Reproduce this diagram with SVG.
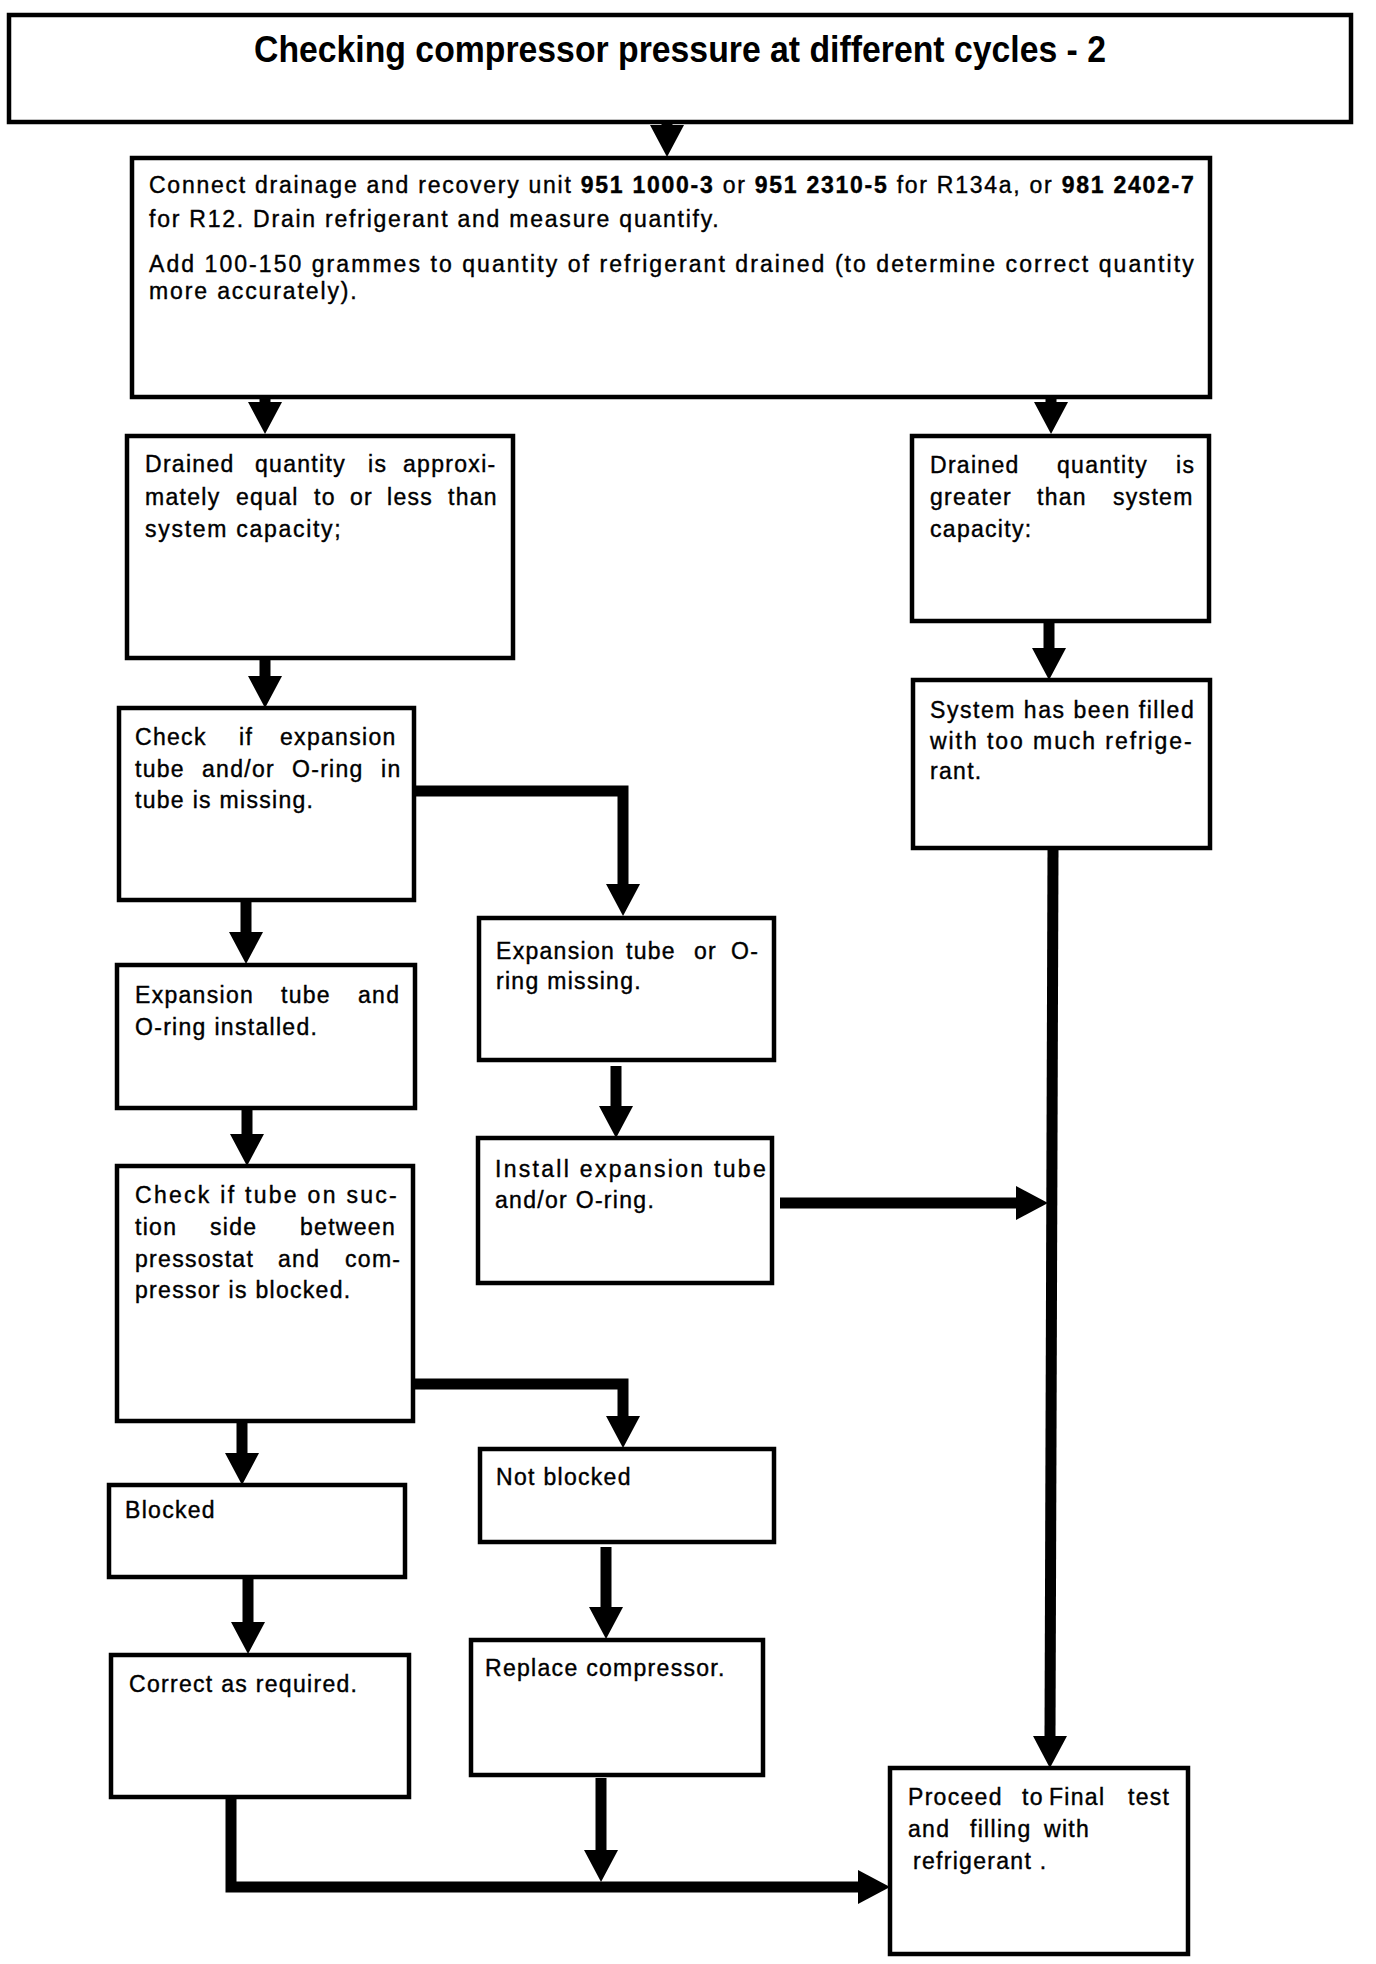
<svg xmlns="http://www.w3.org/2000/svg" width="1376" height="1964" viewBox="0 0 1376 1964">
<defs>
<style>
.box{fill:#fff;stroke:#000;stroke-width:4.5}
.t{font-family:"Liberation Sans",Arial,Helvetica,sans-serif;font-size:23px;letter-spacing:1.3px;fill:#000;stroke:#000;stroke-width:0.4}
.title{font-family:"Liberation Sans",Arial,Helvetica,sans-serif;font-size:36px;font-weight:bold;fill:#000}
.b{font-weight:bold}
.conn{fill:none;stroke:#000;stroke-width:11;stroke-linejoin:miter;marker-end:url(#ah)}
</style>
<marker id="ah" markerUnits="userSpaceOnUse" markerWidth="32" markerHeight="34" viewBox="0 0 32 34" refX="0" refY="17" orient="auto"><path d="M0,0 L32,17 L0,34 Z" fill="#000"/></marker>
</defs>
<rect x="0" y="0" width="1376" height="1964" fill="#fff"/>

<g id="connectors">
<path class="conn" d="M667,121 L667,125"/>
<path class="conn" d="M265,397 L265,402"/>
<path class="conn" d="M1051,397 L1051,402"/>
<path class="conn" d="M265,658 L265,676"/>
<path class="conn" d="M1049,621 L1049,648"/>
<path class="conn" d="M246,900 L246,932"/>
<path class="conn" d="M414,791 L623,791 L623,884"/>
<path class="conn" d="M247,1108 L247,1134"/>
<path class="conn" d="M616,1066 L616,1106"/>
<path class="conn" d="M780,1203 L1016,1203"/>
<path class="conn" d="M1053,848 L1050,1736"/>
<path class="conn" d="M413,1384 L623,1384 L623,1416"/>
<path class="conn" d="M242,1421 L242,1453"/>
<path class="conn" d="M248,1577 L248,1622"/>
<path class="conn" d="M606,1547 L606,1607"/>
<path class="conn" d="M231,1797 L231,1887 L858,1887"/>
<path class="conn" d="M601,1778 L601,1850"/>
</g>

<g id="title">
<rect class="box" x="9" y="15" width="1342" height="107"/>
<text class="title" x="254" y="62" textLength="852" lengthAdjust="spacingAndGlyphs">Checking compressor pressure at different cycles -  2</text>
</g>

<g id="connect">
<rect class="box" x="132" y="158" width="1078" height="239"/>
<text class="t" x="149" y="193" textLength="1046">Connect drainage and recovery unit <tspan class="b">951 1000-3</tspan> or <tspan class="b">951 2310-5</tspan> for R134a, or <tspan class="b">981 2402-7</tspan></text>
<text class="t" x="149" y="227" textLength="571">for R12. Drain refrigerant and measure quantify.</text>
<text class="t" x="149" y="272" textLength="1046">Add 100-150 grammes to quantity of refrigerant drained  (to determine correct  quantity</text>
<text class="t" x="149" y="299" textLength="209">more accurately).</text>
</g>

<g id="less">
<rect class="box" x="127" y="436" width="386" height="222"/>
<text class="t" y="472"><tspan x="145">Drained </tspan><tspan x="255">quantity </tspan><tspan x="368">is </tspan><tspan x="403">approxi-</tspan></text>
<text class="t" y="505"><tspan x="145">mately </tspan><tspan x="236">equal </tspan><tspan x="314">to </tspan><tspan x="350">or </tspan><tspan x="387">less </tspan><tspan x="448">than</tspan></text>
<text class="t" x="145" y="537" textLength="197">system capacity;</text>
</g>

<g id="greater">
<rect class="box" x="912" y="436" width="297" height="185"/>
<text class="t" y="473"><tspan x="930">Drained </tspan><tspan x="1057">quantity </tspan><tspan x="1176">is</tspan></text>
<text class="t" y="505"><tspan x="930">greater </tspan><tspan x="1037">than </tspan><tspan x="1113">system</tspan></text>
<text class="t" x="930" y="537">capacity:</text>
</g>

<g id="check-expansion">
<rect class="box" x="119" y="708" width="295" height="192"/>
<text class="t" y="745"><tspan x="135">Check </tspan><tspan x="239">if </tspan><tspan x="280">expansion</tspan></text>
<text class="t" y="777"><tspan x="135">tube </tspan><tspan x="202">and/or </tspan><tspan x="292">O-ring </tspan><tspan x="381">in</tspan></text>
<text class="t" x="135" y="808">tube is missing.</text>
</g>

<g id="too-much">
<rect class="box" x="913" y="680" width="297" height="168"/>
<text class="t" x="930" y="718" textLength="265">System has been filled</text>
<text class="t" x="930" y="749" textLength="263">with too much refrige-</text>
<text class="t" x="930" y="779">rant.</text>
</g>

<g id="missing">
<rect class="box" x="479" y="918" width="295" height="142"/>
<text class="t" y="959"><tspan x="496">Expansion </tspan><tspan x="626">tube </tspan><tspan x="694">or </tspan><tspan x="731">O-</tspan></text>
<text class="t" x="496" y="989">ring missing.</text>
</g>

<g id="installed">
<rect class="box" x="117" y="965" width="298" height="143"/>
<text class="t" y="1003"><tspan x="135">Expansion </tspan><tspan x="281">tube </tspan><tspan x="358">and</tspan></text>
<text class="t" x="135" y="1035">O-ring installed.</text>
</g>

<g id="install">
<rect class="box" x="478" y="1138" width="294" height="145"/>
<text class="t" x="495" y="1177" textLength="272">Install expansion tube</text>
<text class="t" x="495" y="1208">and/or O-ring.</text>
</g>

<g id="check-suction">
<rect class="box" x="117" y="1166" width="296" height="255"/>
<text class="t" x="135" y="1203" textLength="263">Check if tube on suc-</text>
<text class="t" y="1235"><tspan x="135">tion </tspan><tspan x="210">side </tspan><tspan x="300">between</tspan></text>
<text class="t" y="1267"><tspan x="135">pressostat </tspan><tspan x="278">and </tspan><tspan x="345">com-</tspan></text>
<text class="t" x="135" y="1298">pressor is blocked.</text>
</g>

<g id="not-blocked">
<rect class="box" x="480" y="1449" width="294" height="93"/>
<text class="t" x="496" y="1485">Not blocked</text>
</g>

<g id="blocked">
<rect class="box" x="109" y="1485" width="296" height="92"/>
<text class="t" x="125" y="1518">Blocked</text>
</g>

<g id="replace">
<rect class="box" x="471" y="1640" width="292" height="135"/>
<text class="t" x="485" y="1676">Replace compressor.</text>
</g>

<g id="correct">
<rect class="box" x="111" y="1655" width="298" height="142"/>
<text class="t" x="129" y="1692">Correct as required.</text>
</g>

<g id="proceed">
<rect class="box" x="890" y="1768" width="298" height="186"/>
<text class="t" y="1805"><tspan x="908">Proceed </tspan><tspan x="1022">to </tspan><tspan x="1049">Final </tspan><tspan x="1128">test</tspan></text>
<text class="t" y="1837"><tspan x="908">and </tspan><tspan x="970">filling </tspan><tspan x="1044">with</tspan></text>
<text class="t" x="913" y="1869">refrigerant .</text>
</g>
</svg>
